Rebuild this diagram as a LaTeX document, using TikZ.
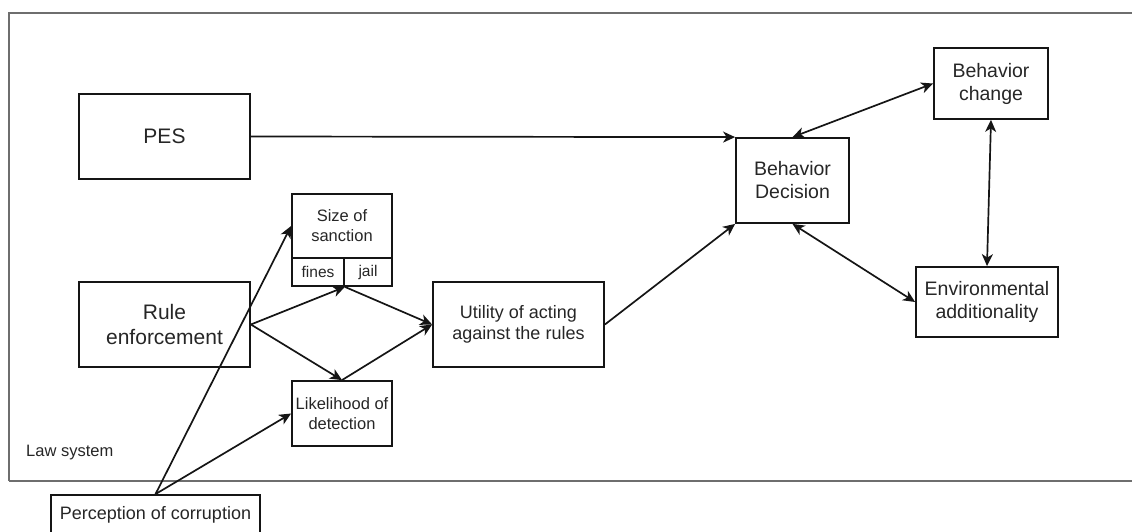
\documentclass[tikz,border=0pt]{standalone}
\usepackage{fontspec}
\setmainfont{Liberation Sans}
\usetikzlibrary{arrows.meta}
\definecolor{ink}{HTML}{262626}
\definecolor{edge}{HTML}{151515}
\definecolor{framec}{HTML}{6E6E6E}
\begin{document}
\begin{tikzpicture}[x=1pt,y=-1pt,
  box/.style={draw=edge,line width=1.8pt,rectangle,inner sep=0pt,align=center,text=ink},
  fs/.style 2 args={font=\fontsize{#1}{#2}\selectfont},
  arr/.style={draw=edge,line width=1.7pt,-{Stealth[length=12pt,width=11pt,inset=3.5pt]}},
  biarr/.style={draw=edge,line width=1.7pt,{Stealth[length=12pt,width=11pt,inset=3.5pt]}-{Stealth[length=12pt,width=11pt,inset=3.5pt]}}]
\useasboundingbox (0,0) rectangle (1132,532);
\clip (0,0) rectangle (1132,532);

% law system frame (open on the right)
\coordinate (fbl) at (9,481);
\coordinate (ftl) at (9,13);
\coordinate (ftr) at (1140,13);
\coordinate (fbr) at (1140,481);
\draw[framec,line width=1.2pt] (ftr) -- (ftl) -- (fbl);
\draw[framec,line width=2.2pt] (fbl) -- (fbr);
\node[anchor=west,text=ink,fs={16.5}{19.5},inner sep=0pt] (law) at (26,453) {Law system};

% boxes
\node[box,fs={21}{25},minimum width=171pt,minimum height=85pt] (pes) at (164.5,136.5) {PES};
\node[box,fs={21}{25},minimum width=171pt,minimum height=85pt] (rule) at (164.5,324.5) {Rule\\enforcement};
\node[box,fs={16.5}{20},minimum width=100pt,minimum height=64pt] (size) at (342,226) {Size of\\sanction};
\node[box,fs={15.5}{18},minimum width=52pt,minimum height=28pt] (fines) at (318,272) {fines};
\node[box,fs={15.5}{18},minimum width=48pt,minimum height=28pt] (jail) at (368,272) {jail};
\node[box,fs={16.5}{20},minimum width=100pt,minimum height=65pt] (like) at (342,413.5) {Likelihood of\\detection};
\node[box,fs={18}{21.5},minimum width=171pt,minimum height=85pt] (util) at (518.5,324.5) {Utility of acting\\against the rules};
\node[box,fs={19.5}{23},minimum width=113pt,minimum height=85pt] (bd) at (792.5,180.5) {Behavior\\Decision};
\node[box,fs={19.5}{23},minimum width=114pt,minimum height=71pt] (bc) at (991,83.5) {Behavior\\change};
\node[box,fs={19.5}{23},minimum width=142pt,minimum height=70pt] (ea) at (987,302) {Environmental\\additionality};
\node[box,fs={18}{21.5},minimum width=209pt,minimum height=40pt] (perc) at (155.5,515) {Perception of corruption};

% connectors
\draw[arr] (pes.east) -- (bd.north west);
\draw[arr] (rule.east) -- (fines.south east);
\draw[arr] (rule.east) -- (like.north);
\draw[arr] (fines.south east) -- (util.west);
\draw[arr] (like.north) -- (util.west);
\draw[arr] (perc.north) -- (size.west);
\draw[arr] (perc.north) -- (like.west);
\draw[arr] (util.east) -- (bd.south west);
\draw[biarr] (bd.north) -- (bc.west);
\draw[biarr] (bd.south) -- (ea.west);
\draw[biarr] (bc.south) -- (ea.north);
\end{tikzpicture}
\end{document}
